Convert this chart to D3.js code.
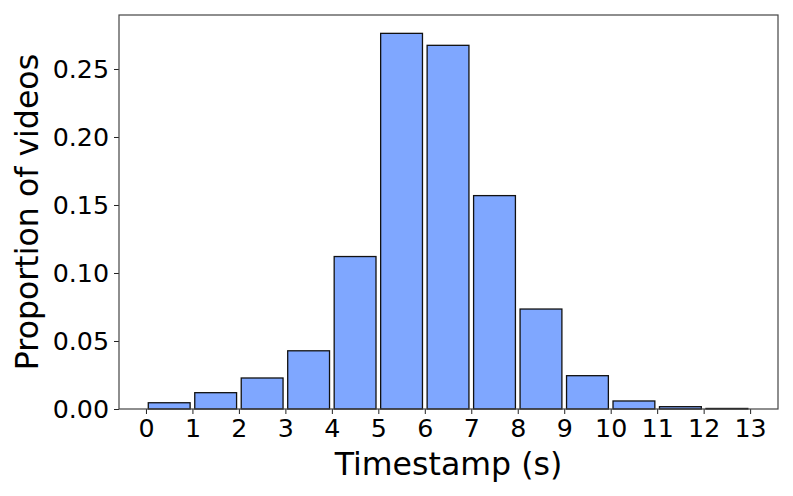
<!DOCTYPE html>
<html>
<head>
<meta charset="utf-8">
<script src="https://cdn.jsdelivr.net/npm/d3@7"></script>
<style>
  body { margin: 0; background: #fff; }
  text { font-family: "DejaVu Sans", sans-serif; fill: #000; }
</style>
</head>
<body>
<div id="chart"></div>
<script>
// Chart data
var binStarts = [0, 1, 2, 3, 4, 5, 6, 7, 8, 9, 10, 11, 12];
var proportions = [0.0046, 0.0120, 0.0228, 0.0428, 0.1121, 0.2762, 0.2674, 0.1569, 0.0735, 0.0245, 0.0059, 0.0017, 0.0004];
var xTicks = [0, 1, 2, 3, 4, 5, 6, 7, 8, 9, 10, 11, 12, 13];
var yTicks = [0, 0.05, 0.10, 0.15, 0.20, 0.25];

// Chart set up
var svgWidth = 793;
var svgHeight = 496;

var margin = {
  top: 15,
  right: 15,
  bottom: 87,
  left: 119
};

var width = svgWidth - margin.left - margin.right;
var height = svgHeight - margin.top - margin.bottom;

var svg = d3
  .select("#chart")
  .append("svg")
  .attr("width", svgWidth)
  .attr("height", svgHeight);

var chartGroup = svg.append("g")
  .attr("transform", `translate(${margin.left}, ${margin.top})`);

var data = binStarts.map(function(b, i) {
  return { start: b, value: proportions[i] };
});

// Scales
var xLinearScale = d3.scaleLinear()
  .domain([-0.58, 13.6])
  .range([0, width]);

var yLinearScale = d3.scaleLinear()
  .domain([0, 0.2897])
  .range([height, 0]);

// Bars (rwidth 0.9)
chartGroup.selectAll("rect.bar")
  .data(data)
  .enter()
  .append("rect")
  .attr("class", "bar")
  .attr("x", d => xLinearScale(d.start + 0.05))
  .attr("width", d => xLinearScale(d.start + 0.95) - xLinearScale(d.start + 0.05))
  .attr("y", d => yLinearScale(d.value))
  .attr("height", d => height - yLinearScale(d.value))
  .attr("fill", "#7fa7ff")
  .attr("stroke", "#111")
  .attr("stroke-width", 1.3);

// Axes
var bottomAxis = d3.axisBottom(xLinearScale)
  .tickValues(xTicks)
  .tickFormat(d3.format("d"))
  .tickSizeInner(5)
  .tickSizeOuter(0)
  .tickPadding(5);

var leftAxis = d3.axisLeft(yLinearScale)
  .tickValues(yTicks)
  .tickFormat(d3.format(".2f"))
  .tickSizeInner(5)
  .tickSizeOuter(0)
  .tickPadding(5);

var xAxisG = chartGroup.append("g")
  .attr("transform", `translate(0, ${height})`)
  .call(bottomAxis);

var yAxisG = chartGroup.append("g").call(leftAxis);

[xAxisG, yAxisG].forEach(function(g) {
  g.select(".domain").remove();
  g.selectAll(".tick line").attr("stroke", "#222").attr("stroke-width", 1);
  g.selectAll(".tick text")
    .style("font-family", "DejaVu Sans")
    .style("font-size", "25.3px")
    .attr("fill", "#000");
});

// Frame (all four spines)
chartGroup.append("rect")
  .attr("x", 0)
  .attr("y", 0)
  .attr("width", width)
  .attr("height", height)
  .attr("fill", "none")
  .attr("stroke", "#444")
  .attr("stroke-width", 1.2);

// Axis labels
svg.append("text")
  .attr("x", margin.left + width / 2)
  .attr("y", 475)
  .attr("text-anchor", "middle")
  .style("font-size", "31.6px")
  .text("Timestamp (s)");

svg.append("text")
  .attr("transform", `translate(38, ${margin.top + height / 2}) rotate(-90)`)
  .attr("text-anchor", "middle")
  .style("font-size", "31.6px")
  .text("Proportion of videos");
</script>
</body>
</html>
